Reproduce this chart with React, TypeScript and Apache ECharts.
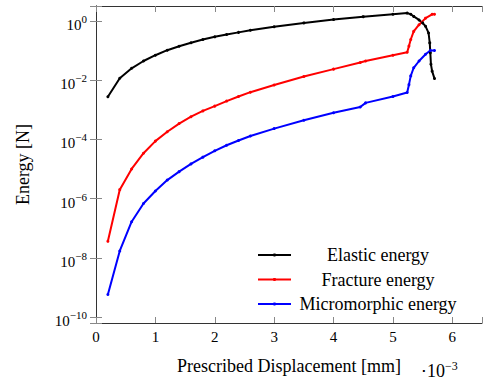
import React, { useEffect, useRef } from 'react';
import * as echarts from 'echarts';

const elasticX = [0.2, 0.4, 0.6, 0.8, 1.0, 1.2, 1.4, 1.6, 1.8, 2.0, 2.2, 2.4, 2.6, 3.0, 3.5, 4.0, 4.5, 5.0, 5.24, 5.3, 5.35, 5.44, 5.5, 5.55, 5.6, 5.62, 5.63, 5.64, 5.66, 5.7];
const elasticY = [2.75e-3, 1.15e-2, 2.5e-2, 4.4e-2, 6.9e-2, 0.102, 0.138, 0.182, 0.234, 0.288, 0.347, 0.407, 0.479, 0.63, 0.85, 1.1, 1.38, 1.66, 1.82, 1.66, 1.41, 1.07, 0.85, 0.65, 0.39, 0.18, 0.083, 0.034, 0.02, 0.0112];

const fractureX = [0.2, 0.4, 0.6, 0.8, 1.0, 1.2, 1.4, 1.6, 1.8, 2.0, 2.2, 2.4, 2.6, 3.0, 3.5, 4.0, 4.45, 4.54, 5.0, 5.24, 5.27, 5.3, 5.35, 5.44, 5.55, 5.66, 5.7];
const fractureY = [3.6e-8, 2.0e-6, 1.0e-5, 3.4e-5, 8.7e-5, 1.8e-4, 3.4e-4, 5.8e-4, 9.1e-4, 1.32e-3, 1.95e-3, 2.8e-3, 3.9e-3, 6.8e-3, 1.32e-2, 2.34e-2, 3.9e-2, 4.4e-2, 6.9e-2, 8.7e-2, 0.14, 0.234, 0.44, 0.74, 1.23, 1.66, 1.66];

const microX = [0.2, 0.4, 0.6, 0.8, 1.0, 1.2, 1.4, 1.6, 1.8, 2.0, 2.2, 2.4, 2.6, 3.0, 3.5, 4.0, 4.45, 4.54, 5.0, 5.24, 5.27, 5.3, 5.35, 5.44, 5.55, 5.63, 5.7];
const microY = [5.8e-10, 1.7e-8, 1.66e-7, 6.8e-7, 1.8e-6, 4.2e-6, 8.1e-6, 1.48e-5, 2.5e-5, 4.1e-5, 6.3e-5, 9.1e-5, 1.29e-4, 2.3e-4, 4.4e-4, 7.9e-4, 1.23e-3, 1.7e-3, 2.8e-3, 3.8e-3, 7.0e-3, 1.38e-2, 2.6e-2, 4.4e-2, 7.4e-2, 0.1, 0.1];

const seriesNames = ['Elastic energy', 'Fracture energy', 'Micromorphic energy'];
const seriesColors = ['#000000', '#ff0000', '#0000ff'];
const xTitle = 'Prescribed Displacement [mm]';
const yTitle = 'Energy [N]';
const xScaleNote = '\u22c510';
const xScaleExp = '\u22123';

const FONT = 'Liberation Serif, Times New Roman, serif';

const pairs = (xs: number[], ys: number[]) => xs.map((x, i) => [x, ys[i]]);

export default function App() {
  const ref = useRef<HTMLDivElement>(null);
  useEffect(() => {
    const chart = echarts.init(ref.current as HTMLDivElement, null, { renderer: 'svg' });
    const yLabelFmt = (v: number) => {
      const e = Math.log10(v);
      const r = Math.round(e);
      if (Math.abs(e - r) > 0.01 || r % 2 !== 0) return '';
      return `{b|10}{s|${r < 0 ? '\u2212' + -r : r}}`;
    };
    const xLabelFmt = (v: number) => (Math.abs(v - Math.round(v)) > 1e-6 ? '' : String(Math.round(v)));
    const axisLineStyle = { color: '#333', width: 1 };
    const tickStyle = { color: '#888', width: 1 };
    const yCommon = {
      type: 'log',
      logBase: 100,
      min: Math.pow(10, -10.2),
      max: Math.pow(10, 0.5),
      axisLine: { show: true, lineStyle: axisLineStyle },
      axisTick: { show: true, inside: true, length: 6, lineStyle: tickStyle },
      splitLine: { show: false },
      minorTick: { show: false },
    };
    const xCommon = {
      type: 'value',
      min: 0,
      max: 6.5,
      interval: 1,
      axisLine: { show: true, onZero: false, lineStyle: axisLineStyle },
      axisTick: { show: true, inside: true, length: 6, lineStyle: tickStyle },
      splitLine: { show: false },
    };
    const series = [
      pairs(elasticX, elasticY),
      pairs(fractureX, fractureY),
      pairs(microX, microY),
    ].map((data, i) => ({
      name: seriesNames[i],
      type: 'line',
      data,
      xAxisIndex: 0,
      yAxisIndex: 0,
      symbol: 'circle',
      symbolSize: 3,
      showSymbol: true,
      color: seriesColors[i],
      lineStyle: { color: seriesColors[i], width: 2 },
      itemStyle: { color: seriesColors[i] },
    }));
    chart.setOption({
      animation: false,
      backgroundColor: '#fff',
      textStyle: { fontFamily: FONT },
      grid: { left: 96, right: 8, top: 6, bottom: 53, containLabel: false },
      xAxis: [
        {
          ...xCommon,
          position: 'bottom',
          name: xTitle,
          nameLocation: 'middle',
          nameGap: 34,
          nameTextStyle: { fontFamily: FONT, fontSize: 18, color: '#000' },
          axisLabel: { show: true, formatter: xLabelFmt, fontFamily: FONT, fontSize: 15, color: '#000', margin: 6 },
        },
        { ...xCommon, position: 'top', axisLabel: { show: false } },
      ],
      yAxis: [
        {
          ...yCommon,
          position: 'left',
          name: yTitle,
          nameLocation: 'middle',
          nameGap: 64,
          nameRotate: 90,
          nameTextStyle: { fontFamily: FONT, fontSize: 18, color: '#000' },
          axisLabel: {
            show: true,
            formatter: yLabelFmt,
            margin: 9,
            padding: [4, 0, 0, 0],
            fontFamily: FONT,
            rich: {
              b: { fontFamily: FONT, fontSize: 15, color: '#000', lineHeight: 19, verticalAlign: 'bottom' },
              s: { fontFamily: FONT, fontSize: 11, color: '#000', lineHeight: 10, verticalAlign: 'top' },
            },
          },
        },
        { ...yCommon, position: 'right', axisLabel: { show: false } },
      ],
      legend: {
        show: true,
        orient: 'vertical',
        left: 257,
        top: 246,
        padding: 0,
        itemWidth: 33,
        itemHeight: 4,
        itemGap: 6.5,
        data: seriesNames,
        formatter: (name: string) => `{t|${name}}`,
        textStyle: {
          fontFamily: FONT,
          rich: {
            t: { width: 164, align: 'center', fontFamily: FONT, fontSize: 18, lineHeight: 20, color: '#000' },
          },
        },
      },
      graphic: [
        {
          type: 'text',
          left: 421,
          top: 360,
          style: {
            text: `{b|${xScaleNote}}{s|${xScaleExp}}`,
            rich: {
              b: { fontFamily: FONT, fontSize: 18, fill: '#000', lineHeight: 20, verticalAlign: 'bottom' },
              s: { fontFamily: FONT, fontSize: 12, fill: '#000', lineHeight: 12, verticalAlign: 'top' },
            },
          },
        },
      ],
      series,
    });
    return () => chart.dispose();
  }, []);
  return (
    <div
      ref={ref}
      style={{ position: 'absolute', left: 0, top: 0, width: 490, height: 380, background: '#fff' }}
    />
  );
}
